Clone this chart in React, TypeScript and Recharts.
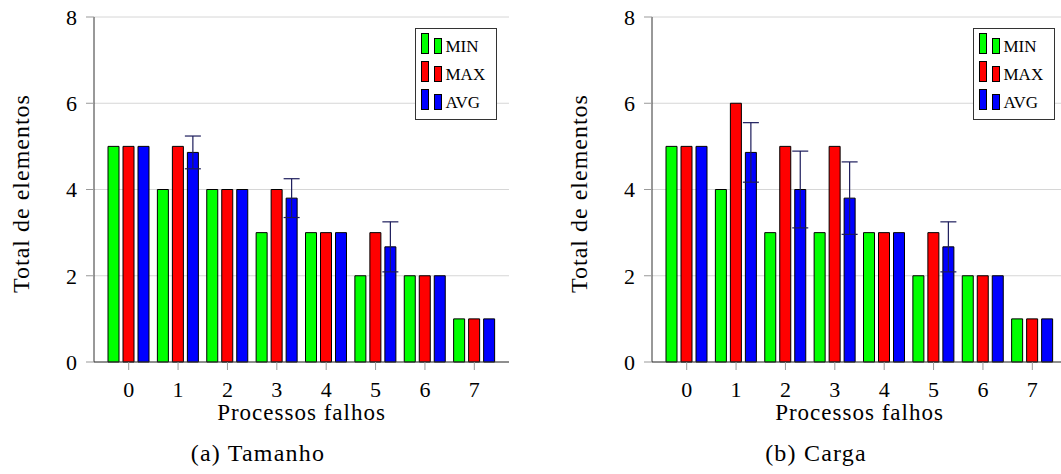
import React from "react";
import {
  BarChart,
  Bar,
  XAxis,
  YAxis,
  CartesianGrid,
  Legend,
  ErrorBar,
} from "recharts";

const categories = [0, 1, 2, 3, 4, 5, 6, 7];
const yTicks = [0, 2, 4, 6, 8];

const tamanhoMin = [5, 4, 4, 3, 3, 2, 2, 1];
const tamanhoMax = [5, 5, 4, 4, 3, 3, 2, 1];
const tamanhoAvg = [5, 4.86, 4, 3.8, 3, 2.67, 2, 1];
const tamanhoErr = [0, 0.38, 0, 0.45, 0, 0.58, 0, 0];

const cargaMin = [5, 4, 3, 3, 3, 2, 2, 1];
const cargaMax = [5, 6, 5, 5, 3, 3, 2, 1];
const cargaAvg = [5, 4.86, 4, 3.8, 3, 2.67, 2, 1];
const cargaErr = [0, 0.69, 0.89, 0.84, 0, 0.58, 0, 0];

const FONT = "Liberation Serif";

const series = [
  { key: "min", name: "MIN", color: "#00ff00" },
  { key: "max", name: "MAX", color: "#ff0000" },
  { key: "avg", name: "AVG", color: "#0000ff" },
];

function buildRows(min: number[], max: number[], avg: number[], err: number[]) {
  return categories.map((c, i) => ({
    cat: c,
    min: min[i],
    max: max[i],
    avg: avg[i],
    err: err[i],
  }));
}

const LegendBox = () => (
  <svg width={82} height={92} style={{ display: "block" }}>
    <rect x={0.5} y={0.5} width={81} height={91} fill="#fff" stroke="#333" />
    {series.map((s, i) => (
      <g key={s.key}>
        <rect x={6.5} y={5.5 + i * 28} width={7} height={20} fill={s.color} stroke="#000" />
        <rect x={19.5} y={10.5 + i * 28} width={7} height={15} fill={s.color} stroke="#000" />
        <text x={30.5} y={24 + i * 28} fontSize={17} style={{ fontFamily: FONT }} fill="#000">
          {s.name}
        </text>
      </g>
    ))}
  </svg>
);

const tickStyle = { fill: "#000", fontSize: 22, style: { fontFamily: FONT } };

function Panel({ rows, caption }: { rows: any[]; caption: string }) {
  return (
    <div style={{ position: "relative", width: 558, height: 474, flex: "none", fontFamily: FONT }}>
      <BarChart
        width={558}
        height={474}
        data={rows}
        margin={{ top: 17, right: 49, left: 0, bottom: 52 }}
        barSize={11}
        barGap={4}
        style={{ fontFamily: FONT }}
      >
        <CartesianGrid vertical={false} stroke="#d6d6d6" strokeWidth={1} />
        <XAxis
          dataKey="cat"
          height={60}
          padding={{ left: 10, right: 10 }}
          tickSize={8}
          tickMargin={11}
          tickLine={{ stroke: "#999" }}
          axisLine={{ stroke: "#333" }}
          tick={tickStyle}
          label={{
            position: "center",
            content: (p: any) => {
              const vb = p.viewBox;
              return (
                <text
                  x={vb.x + vb.width / 2}
                  y={vb.y + 58}
                  textAnchor="middle"
                  fontSize={23}
                  style={{ fontFamily: FONT, letterSpacing: 1 }}
                  fill="#000"
                >
                  Processos falhos
                </text>
              );
            },
          }}
        />
        <XAxis
          xAxisId="top"
          dataKey="cat"
          orientation="top"
          height={0}
          tick={false}
          tickLine={false}
          axisLine={{ stroke: "#444" }}
        />
        <YAxis
          width={94}
          domain={[0, 8]}
          ticks={yTicks}
          tickSize={8}
          tickMargin={9}
          tickLine={{ stroke: "#999" }}
          axisLine={{ stroke: "#333" }}
          tick={tickStyle}
          label={{
            position: "center",
            content: (p: any) => {
              const vb = p.viewBox;
              const cy = vb.y + vb.height / 2 + 4;
              return (
                <text
                  x={21}
                  y={cy}
                  transform={`rotate(-90, 21, ${cy})`}
                  textAnchor="middle"
                  dominantBaseline="central"
                  fontSize={24}
                  style={{ fontFamily: FONT, letterSpacing: 1 }}
                  fill="#000"
                >
                  Total de elementos
                </text>
              );
            },
          }}
        />
        <YAxis
          yAxisId="right"
          orientation="right"
          width={0}
          domain={[0, 8]}
          tick={false}
          tickLine={false}
          axisLine={{ stroke: "#444" }}
        />
        <Legend
          layout="vertical"
          align="center"
          verticalAlign="middle"
          content={() => <LegendBox />}
          wrapperStyle={{ position: "absolute", left: 415, top: 28, width: 82, height: 92 }}
        />
        {series.map((s) => (
          <Bar
            key={s.key}
            dataKey={s.key}
            name={s.name}
            fill={s.color}
            stroke="#000"
            strokeWidth={1}
            isAnimationActive={false}
          >
            {s.key === "avg" && (
              <ErrorBar
                dataKey="err"
                direction="y"
                width={8}
                stroke="#1c1c5c"
                strokeWidth={1.2}
                isAnimationActive={false}
              />
            )}
          </Bar>
        ))}
      </BarChart>
      <div
        style={{
          position: "absolute",
          left: 158,
          width: 200,
          top: 440,
          textAlign: "center",
          fontFamily: FONT,
          fontSize: 24,
          letterSpacing: 1.2,
          color: "#000",
        }}
      >
        {caption}
      </div>
    </div>
  );
}

export default function App() {
  const tamanho = buildRows(tamanhoMin, tamanhoMax, tamanhoAvg, tamanhoErr);
  const carga = buildRows(cargaMin, cargaMax, cargaAvg, cargaErr);
  return (
    <div
      style={{
        position: "fixed",
        left: 0,
        top: 0,
        width: 1061,
        height: 474,
        overflow: "hidden",
        background: "#fff",
        display: "flex",
        fontFamily: FONT,
      }}
    >
      <Panel rows={tamanho} caption="(a) Tamanho" />
      <Panel rows={carga} caption="(b) Carga" />
    </div>
  );
}
